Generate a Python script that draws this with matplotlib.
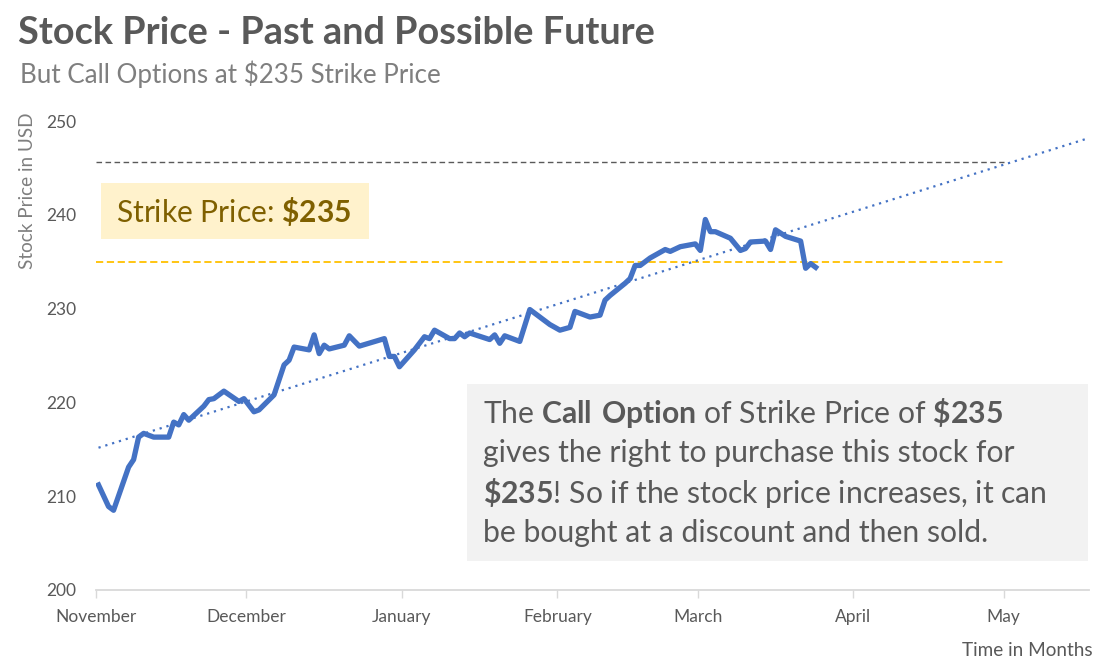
import numpy as np
import pandas as pd
import matplotlib
matplotlib.use("Agg")
import matplotlib.pyplot as plt
import matplotlib.dates as mdates
from matplotlib.patches import Rectangle

plt.rcParams['font.family'] = ['Lato', 'DejaVu Sans']
plt.rcParams['mathtext.fontset'] = 'custom'
plt.rcParams['mathtext.rm'] = 'Lato'
plt.rcParams['mathtext.bf'] = 'Lato:bold'

# price readings
dates = [
    "2022-11-01", "2022-11-03", "2022-11-04", "2022-11-07", "2022-11-08", "2022-11-09",
    "2022-11-10", "2022-11-12", "2022-11-15", "2022-11-16", "2022-11-17", "2022-11-18",
    "2022-11-19", "2022-11-22", "2022-11-23", "2022-11-24", "2022-11-26", "2022-11-29",
    "2022-11-30", "2022-12-02", "2022-12-03", "2022-12-06", "2022-12-08", "2022-12-09",
    "2022-12-10", "2022-12-13", "2022-12-14", "2022-12-15", "2022-12-16", "2022-12-17",
    "2022-12-20", "2022-12-21", "2022-12-23", "2022-12-28", "2022-12-29", "2022-12-30",
    "2022-12-31", "2023-01-03", "2023-01-05", "2023-01-06", "2023-01-07", "2023-01-10",
    "2023-01-11", "2023-01-12", "2023-01-13", "2023-01-14", "2023-01-18", "2023-01-19",
    "2023-01-20", "2023-01-21", "2023-01-24", "2023-01-26", "2023-01-27", "2023-01-30",
    "2023-02-01", "2023-02-03", "2023-02-04", "2023-02-07", "2023-02-09", "2023-02-10",
    "2023-02-11", "2023-02-14", "2023-02-15", "2023-02-16", "2023-02-17", "2023-02-19",
    "2023-02-22", "2023-02-23", "2023-02-25", "2023-02-28", "2023-03-01", "2023-03-02",
    "2023-03-03", "2023-03-04", "2023-03-07", "2023-03-09", "2023-03-10", "2023-03-11",
    "2023-03-14", "2023-03-15", "2023-03-16", "2023-03-18", "2023-03-21", "2023-03-22",
    "2023-03-23", "2023-03-24",
]
prices = [
    211.2, 208.9, 208.5, 213.1, 213.9, 216.3,
    216.7, 216.3, 216.3, 217.9, 217.6, 218.7,
    218.1, 219.6, 220.3, 220.4, 221.2, 220.1,
    220.4, 219.0, 219.2, 220.8, 224.0, 224.5,
    225.9, 225.6, 227.2, 225.2, 226.1, 225.7,
    226.1, 227.1, 226.0, 226.8, 224.9, 224.9,
    223.8, 225.6, 227.0, 226.8, 227.7, 226.8,
    226.8, 227.4, 227.0, 227.4, 226.7, 227.2,
    226.3, 227.1, 226.5, 229.9, 229.5, 228.3,
    227.7, 228.0, 229.7, 229.1, 229.3, 230.9,
    231.4, 232.7, 233.2, 234.6, 234.6, 235.4,
    236.3, 236.1, 236.6, 236.9, 236.2, 239.5,
    238.2, 238.2, 237.5, 236.2, 236.4, 237.1,
    237.2, 236.3, 238.4, 237.7, 237.2, 234.3,
    234.8, 234.4,
]
strike = 235
months = ["November", "December", "January", "February", "March", "April", "May"]
month_starts = ["2022-11-01", "2022-12-01", "2023-01-01", "2023-02-01",
                "2023-03-01", "2023-04-01", "2023-05-01"]
x_end = "2023-05-18"

df = pd.DataFrame({"Date": pd.to_datetime(dates), "Price": prices})
xnum = mdates.date2num(df["Date"]) + 0.5

# linear trendline, extended into the future
k, b = np.polyfit(xnum, df["Price"], 1)
t0 = mdates.date2num(pd.Timestamp(month_starts[0]))
t_may = mdates.date2num(pd.Timestamp(month_starts[-1]))
t1 = mdates.date2num(pd.Timestamp(x_end))

fig = plt.figure(figsize=(11.13, 6.66), dpi=100)
ax = fig.add_axes([96 / 1113, 76 / 666, 993 / 1113, 469 / 666])

ax.plot([t0, t_may], [k * t_may + b + 0.3] * 2, color="#595959", lw=1.0, ls=(0, (4, 2.5)))
ax.plot([t0, t_may], [strike, strike], color="#ffc000", lw=1.3, ls=(0, (4, 2)))
ax.plot([t0 + 0.5, t1], [k * (t0 + 0.5) + b, k * t1 + b], color="#4472c4", lw=1.6,
        ls=(0, (1, 2.2)))
ax.plot(xnum, df["Price"], color="#4472c4", lw=3.8, solid_joinstyle="round")

ax.set_xlim(t0, t1)
ax.set_ylim(200, 250)
ax.set_yticks(range(200, 251, 10))
ax.set_xticks(mdates.date2num(pd.to_datetime(month_starts)))
ax.set_xticklabels(months)

for s in ["top", "right", "left"]:
    ax.spines[s].set_visible(False)
ax.spines["bottom"].set_color("#d9d9d9")
ax.spines["bottom"].set_linewidth(1.3)
ax.tick_params(axis="y", length=0, pad=14, labelsize=12.5, labelcolor="#595959")
ax.tick_params(axis="x", length=6, width=1, color="#d9d9d9", pad=8,
               labelsize=12.5, labelcolor="#595959")

fig.text(28 / 1113, 1 - 191 / 666, "Stock Price in USD", rotation=90, ha="center",
         va="center", fontsize=13.6, color="#7f7f7f")
fig.text(1093 / 1113, 1 - 651 / 666, "Time in Months", ha="right", va="center",
         fontsize=13.6, color="#595959")

fig.text(18 / 1113, 1 - 33 / 666, "Stock Price - Past and Possible Future", ha="left",
         va="center", fontsize=27.3, fontweight="bold", color="#595959")
fig.text(20 / 1113, 1 - 74 / 666, "But Call Options at $235 Strike Price", ha="left",
         va="center", fontsize=18.7, color="#7f7f7f")

# strike price label
fig.add_artist(Rectangle((101 / 1113, 1 - 239 / 666), 268 / 1113, 56 / 666,
                         transform=fig.transFigure, facecolor="#fff2cc", edgecolor="none"))
fig.text(116 / 1113, 1 - 212 / 666, r"Strike Price: $\mathbf{\$235}$", ha="left",
         va="center", fontsize=21.6, color="#7f6000")

# explanation box
fig.add_artist(Rectangle((467 / 1113, 1 - 561 / 666), 621 / 1113, 177 / 666,
                         transform=fig.transFigure, facecolor="#f2f2f2", edgecolor="none"))
lines = [
    r"The $\mathbf{Call\ Option}$ of Strike Price of $\mathbf{\$235}$",
    "gives the right to purchase this stock for",
    r"$\mathbf{\$235}$! So if the stock price increases, it can",
    "be bought at a discount and then sold.",
]
for i, line in enumerate(lines):
    fig.text(483 / 1113, 1 - (413 + 40 * i) / 666, line, ha="left", va="center",
             fontsize=21.7, color="#595959")

fig.savefig("out.png", dpi=100)
